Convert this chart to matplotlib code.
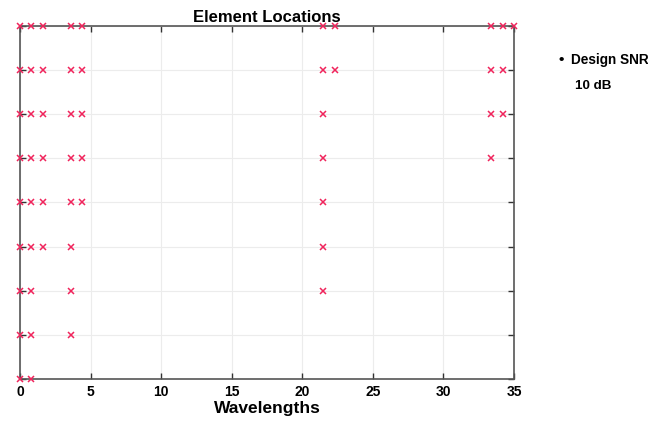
import matplotlib.pyplot as plt

# element positions (wavelengths) for each array size
num_elements = [10, 9, 8, 7, 6, 5, 4, 3, 2]
positions = [
    [0, 0.8, 1.6, 3.6, 4.4, 21.5, 22.3, 33.4, 34.2, 35.0],
    [0, 0.8, 1.6, 3.6, 4.4, 21.5, 22.3, 33.4, 34.2],
    [0, 0.8, 1.6, 3.6, 4.4, 21.5, 33.4, 34.2],
    [0, 0.8, 1.6, 3.6, 4.4, 21.5, 33.4],
    [0, 0.8, 1.6, 3.6, 4.4, 21.5],
    [0, 0.8, 1.6, 3.6, 21.5],
    [0, 0.8, 3.6, 21.5],
    [0, 0.8, 3.6],
    [0, 0.8],
]
x_ticks = [0, 5, 10, 15, 20, 25, 30, 35]

plt.rcParams['font.family'] = ['Liberation Sans', 'DejaVu Sans']
plt.rcParams['font.weight'] = 'bold'

fig = plt.figure(figsize=(6.48, 4.23), dpi=100)
ax = fig.add_axes([20 / 648, 1 - 379 / 423, 494 / 648, 353 / 423])

for n, xs in zip(num_elements, positions):
    ax.plot(xs, [n] * len(xs), 'x', color='#f0245c', markersize=5,
            markeredgewidth=1.1, clip_on=False, zorder=5)

ax.set_xlim(0, 35)
ax.set_ylim(2, 10)
ax.set_xticks(x_ticks)
ax.set_yticks(num_elements)
ax.set_yticklabels([])
ax.grid(True, color='#ececec', linewidth=0.8)
ax.set_axisbelow(True)
ax.tick_params(direction='in', top=True, right=True, length=4,
               width=1, color='#333333', labelsize=10, pad=4)
for lab in ax.get_xticklabels():
    lab.set_fontweight('bold')
for s in ax.spines.values():
    s.set_color('#555555')
    s.set_linewidth(1.2)

ax.set_title('Element Locations', fontsize=12, fontweight='bold', pad=3)
ax.set_xlabel('Wavelengths', fontsize=12.5, fontweight='bold', labelpad=2)

# legend-like annotation on the right
fig.text(561 / 648, 1 - 60 / 423, '\u2022', fontsize=11, ha='center', va='center')
fig.text(571 / 648, 1 - 60 / 423, 'Design SNR', fontsize=9.8, fontweight='bold',
         ha='left', va='center')
fig.text(575 / 648, 1 - 86 / 423, '10 dB', fontsize=9.6, fontweight='bold',
         ha='left', va='center')

fig.savefig('out.png', dpi=100)
